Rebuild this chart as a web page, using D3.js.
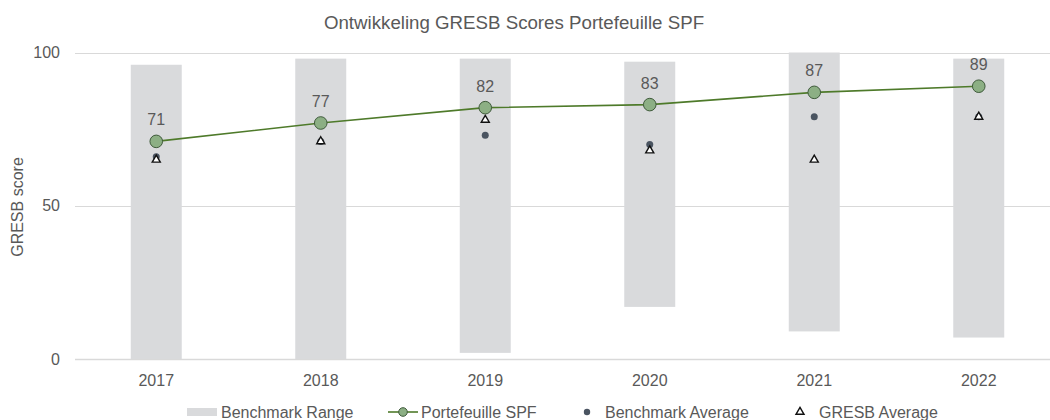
<!DOCTYPE html>
<html>
<head>
<meta charset="utf-8">
<script src="https://cdn.jsdelivr.net/npm/d3@7"></script>
<style>
  body { margin: 0; background: #fff; }
  text { font-family: "Liberation Sans", Arial, sans-serif; fill: #595959; }
</style>
</head>
<body>
<div id="chart"></div>
<script>
// GRESB scores per year
var years = ["2017", "2018", "2019", "2020", "2021", "2022"];
var rangeLow = [0, 0, 2, 17, 9, 7];
var rangeHigh = [96, 98, 98, 97, 100, 98];
var portfolio = [71, 77, 82, 83, 87, 89];
var benchmarkAvg = [66, 71, 73, 70, 79, 79];
var gresbAvg = [65, 71, 78, 68, 65, 79];
var yTicks = [0, 50, 100];

var width = 1050, height = 420;
var svg = d3.select("#chart").append("svg")
    .attr("width", width)
    .attr("height", height);

var xScale = d3.scaleBand()
    .domain(years)
    .range([74, 1061])
    .paddingInner(0.69)
    .paddingOuter(0.345);

var yScale = d3.scaleLinear()
    .domain([0, 100])
    .range([359, 52.5]);

var cx = function(i) { return xScale(years[i]) + xScale.bandwidth() / 2; };

// gridlines
svg.append("g").selectAll("line")
    .data(yTicks)
    .join("line")
    .attr("x1", 75).attr("x2", width)
    .attr("y1", function(d) { return Math.round(yScale(d)) + 0.5; })
    .attr("y2", function(d) { return Math.round(yScale(d)) + 0.5; })
    .attr("stroke", "#d9d9d9")
    .attr("stroke-width", function(d) { return d === 0 ? 1.5 : 1; });

// y tick labels
svg.append("g").selectAll("text")
    .data(yTicks)
    .join("text")
    .attr("x", 60)
    .attr("y", function(d) { return yScale(d) + 5.5; })
    .attr("text-anchor", "end")
    .style("font-size", "16px")
    .text(function(d) { return d; });

// x tick labels
svg.append("g").selectAll("text")
    .data(years)
    .join("text")
    .attr("x", function(d, i) { return cx(i); })
    .attr("y", 386)
    .attr("text-anchor", "middle")
    .style("font-size", "16px")
    .text(function(d) { return d; });

// benchmark range bars
svg.append("g").selectAll("rect")
    .data(years)
    .join("rect")
    .attr("x", function(d) { return xScale(d); })
    .attr("width", xScale.bandwidth())
    .attr("y", function(d, i) { return yScale(rangeHigh[i]); })
    .attr("height", function(d, i) { return yScale(rangeLow[i]) - yScale(rangeHigh[i]); })
    .attr("fill", "#d9dadc");

// benchmark average dots
svg.append("g").selectAll("circle")
    .data(benchmarkAvg)
    .join("circle")
    .attr("cx", function(d, i) { return cx(i); })
    .attr("cy", function(d) { return yScale(d); })
    .attr("r", 3.5)
    .attr("fill", "#4a5461");

// gresb average triangles
var tri = d3.symbol().type(d3.symbolTriangle).size(28);
svg.append("g").selectAll("path")
    .data(gresbAvg)
    .join("path")
    .attr("transform", function(d, i) { return "translate(" + cx(i) + "," + yScale(d) + ")"; })
    .attr("d", tri)
    .attr("fill", "#fff")
    .attr("stroke", "#111")
    .attr("stroke-width", 1.4);

// portefeuille line
var line = d3.line()
    .x(function(d, i) { return cx(i); })
    .y(function(d) { return yScale(d); });

svg.append("path")
    .datum(portfolio)
    .attr("d", line)
    .attr("fill", "none")
    .attr("stroke", "#4e7a2a")
    .attr("stroke-width", 1.6);

svg.append("g").selectAll("circle")
    .data(portfolio)
    .join("circle")
    .attr("cx", function(d, i) { return cx(i); })
    .attr("cy", function(d) { return yScale(d); })
    .attr("r", 6.3)
    .attr("fill", "#8caf84")
    .attr("stroke", "#3f5a3b")
    .attr("stroke-width", 1);

// data labels
svg.append("g").selectAll("text")
    .data(portfolio)
    .join("text")
    .attr("x", function(d, i) { return cx(i); })
    .attr("y", function(d) { return yScale(d) - 16; })
    .attr("text-anchor", "middle")
    .style("font-size", "16px")
    .text(function(d) { return d; });

// title
svg.append("text")
    .attr("x", 514)
    .attr("y", 29)
    .attr("text-anchor", "middle")
    .style("font-size", "18.7px")
    .text("Ontwikkeling GRESB Scores Portefeuille SPF");

// y axis title
svg.append("text")
    .attr("transform", "translate(23,207) rotate(-90)")
    .attr("text-anchor", "middle")
    .style("font-size", "16px")
    .text("GRESB score");

// legend
var legY = 412;
var leg = svg.append("g");
leg.append("rect").attr("x", 187).attr("y", legY - 4).attr("width", 30).attr("height", 8).attr("fill", "#d9dadc");
leg.append("text").attr("x", 221).attr("y", legY + 5.5).style("font-size", "16px").text("Benchmark Range");

leg.append("line").attr("x1", 388).attr("x2", 418).attr("y1", legY).attr("y2", legY)
    .attr("stroke", "#4e7a2a").attr("stroke-width", 1.6);
leg.append("circle").attr("cx", 403).attr("cy", legY).attr("r", 4.3)
    .attr("fill", "#8caf84").attr("stroke", "#3f5a3b");
leg.append("text").attr("x", 421).attr("y", legY + 5.5).style("font-size", "16px").text("Portefeuille SPF");

leg.append("circle").attr("cx", 587).attr("cy", legY).attr("r", 3.2).attr("fill", "#4a5461");
leg.append("text").attr("x", 605).attr("y", legY + 5.5).style("font-size", "16px").text("Benchmark Average");

leg.append("path").attr("transform", "translate(800," + legY + ")").attr("d", tri)
    .attr("fill", "#fff").attr("stroke", "#111").attr("stroke-width", 1.4);
leg.append("text").attr("x", 819).attr("y", legY + 5.5).style("font-size", "16px").text("GRESB Average");
</script>
</body>
</html>
